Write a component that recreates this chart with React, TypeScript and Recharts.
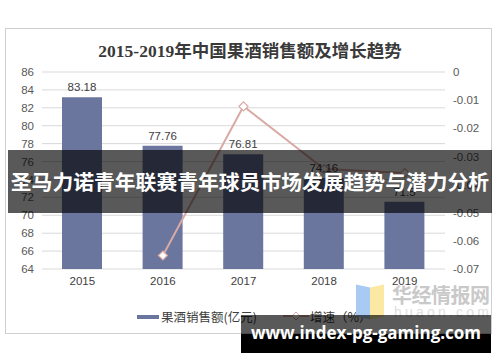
import React from 'react';
import {
  ComposedChart,
  Bar,
  Line,
  XAxis,
  YAxis,
  CartesianGrid,
  LabelList,
} from 'recharts';

const years = ['2015', '2016', '2017', '2018', '2019'];
const sales = [83.18, 77.76, 76.81, 74.16, 71.5];
const growth = [null, -0.0652, -0.0122, -0.0345, -0.0359];
const salesTicks = [64, 66, 68, 70, 72, 74, 76, 78, 80, 82, 84, 86];
const growthTicks = [0, -0.01, -0.02, -0.03, -0.04, -0.05, -0.06, -0.07];
const edgeTicks = [0, 1, 2, 3, 4, 5];

const BAR = '#6a769e';
const LINE = '#d9a9a4';
const AXIS_FONT = '"Liberation Sans", Arial, sans-serif';
const CJK_FONT = '"Noto Sans CJK SC", "Noto Sans", sans-serif';

const data = years.map((y, i) => ({ year: y, sales: sales[i], growth: growth[i] }));

function Diamond(props: any) {
  const { cx, cy, value } = props;
  if (value == null || cx == null || cy == null) return null;
  const r = 4.5;
  return (
    <path
      d={`M${cx},${cy - r}L${cx + r},${cy}L${cx},${cy + r}L${cx - r},${cy}Z`}
      fill="#fff"
      stroke={LINE}
      strokeWidth={1.2}
    />
  );
}

export default function App() {
  return (
    <div style={{ position: 'absolute', left: 0, top: 0, width: 500, height: 362, background: '#fff', overflow: 'hidden' }}>
      {/* frame */}
      <div style={{ position: 'absolute', left: 5, top: 28, width: 485, height: 304, border: '1px solid #cfcfcf' }} />

      <div
        style={{
          position: 'absolute',
          left: 0,
          top: 37,
          width: 500,
          textAlign: 'center',
          fontFamily: '"Liberation Serif", "Noto Sans CJK SC", serif',
          fontWeight: 'bold',
          fontSize: 17.5,
          color: '#3a3a3a',
        }}
      >
        2015-2019年中国果酒销售额及增长趋势
      </div>

      <div style={{ position: 'absolute', left: 0, top: 0 }}>
        <ComposedChart width={500} height={362} data={data} margin={{ top: 72, right: 10, left: 12, bottom: 63 }}>
          <CartesianGrid vertical={false} stroke="#d9d9d9" yAxisId="left" xAxisId="cat" />
          <XAxis
            xAxisId="edge"
            type="number"
            domain={[0, 5]}
            ticks={edgeTicks}
            allowDataOverflow
            tick={false}
            tickSize={4}
            height={0}
            stroke="#bfbfbf"
          />
          <XAxis
            xAxisId="cat"
            dataKey="year"
            axisLine={false}
            tickLine={false}
            height={30}
            tick={{ fontSize: 11.5, fill: '#404040', fontFamily: AXIS_FONT }}
          />
          <YAxis
            yAxisId="left"
            domain={[64, 86]}
            ticks={salesTicks}
            width={30}
            axisLine={false}
            tickLine={false}
            tickSize={6}
            interval={0}
            tick={{ fontSize: 11.5, fill: '#595959', fontFamily: AXIS_FONT }}
          />
          <YAxis
            yAxisId="right"
            orientation="right"
            domain={[-0.07, 0]}
            ticks={growthTicks}
            width={45}
            axisLine={false}
            tickLine={false}
            tickSize={6}
            interval={0}
            tick={{ fontSize: 11.5, fill: '#595959', fontFamily: AXIS_FONT, textAnchor: 'start' }}
          />
          <Bar xAxisId="cat" yAxisId="left" dataKey="sales" fill={BAR} barSize={40} isAnimationActive={false}>
            <LabelList
              dataKey="sales"
              position="top"
              offset={6}
              style={{ fontSize: 11.5, fill: '#404040', fontFamily: AXIS_FONT }}
            />
          </Bar>
          <Line
            xAxisId="cat"
            yAxisId="right"
            dataKey="growth"
            stroke={LINE}
            strokeWidth={2}
            dot={<Diamond />}
            activeDot={false}
            isAnimationActive={false}
          />
        </ComposedChart>
      </div>

      {/* legend */}
      <div style={{ position: 'absolute', left: 137, top: 315, width: 22, height: 4, background: BAR }} />
      <div style={{ position: 'absolute', left: 161, top: 308, fontFamily: CJK_FONT, fontSize: 12.5, color: '#404040', lineHeight: '18px' }}>
        果酒销售额(亿元)
      </div>
      <svg style={{ position: 'absolute', left: 282, top: 310 }} width={28} height={12}>
        <line x1={1} y1={6} x2={27} y2={6} stroke={LINE} strokeWidth={2} />
        <path d="M14,2L18,6L14,10L10,6Z" fill="#fff" stroke={LINE} strokeWidth={1} />
      </svg>
      <div style={{ position: 'absolute', left: 310, top: 308, fontFamily: CJK_FONT, fontSize: 12.5, color: '#404040', lineHeight: '18px' }}>
        增速（%）
      </div>

      {/* watermark */}
      <div style={{ position: 'absolute', left: 356, top: 286, width: 14, height: 32, background: '#a9cbf3', transform: 'skewY(12deg)' }} />
      <div style={{ position: 'absolute', left: 370, top: 286, width: 14, height: 32, background: '#fbe9a3', transform: 'skewY(-12deg)' }} />
      <div style={{ position: 'absolute', left: 392, top: 282, fontFamily: CJK_FONT, fontWeight: 'bold', fontSize: 20, color: '#c9c9c9', letterSpacing: -0.5, lineHeight: '26px' }}>
        华经情报网
      </div>
      <div style={{ position: 'absolute', left: 394, top: 303, fontFamily: AXIS_FONT, fontSize: 14, color: '#e0e0e0', letterSpacing: 3.2, lineHeight: '18px' }}>
        huaon.com
      </div>

      {/* overlay banner */}
      <div
        style={{
          position: 'absolute',
          left: 8,
          top: 150,
          width: 484,
          height: 63,
          background: 'rgba(0,0,0,0.65)',
          color: '#fff',
          fontFamily: CJK_FONT,
          fontWeight: 'bold',
          fontSize: 20.8,
          lineHeight: '63px',
          textAlign: 'center',
          whiteSpace: 'nowrap',
        }}
      >
        圣马力诺青年联赛青年球员市场发展趋势与潜力分析
      </div>

      {/* site banner */}
      <div style={{ position: 'absolute', left: 241, top: 315, width: 250, height: 19, background: 'rgba(0,0,0,0.65)' }} />
      <div style={{ position: 'absolute', left: 241, top: 334, width: 250, height: 19, background: '#000' }} />
      <div
        style={{
          position: 'absolute',
          left: 241,
          top: 321,
          width: 250,
          textAlign: 'center',
          color: '#fff',
          fontFamily: '"Open Sans", "Noto Sans", sans-serif',
          fontWeight: 'bold',
          fontSize: 17,
          lineHeight: '24px',
          whiteSpace: 'nowrap',
        }}
      >
        www.index-pg-gaming.com
      </div>
    </div>
  );
}
